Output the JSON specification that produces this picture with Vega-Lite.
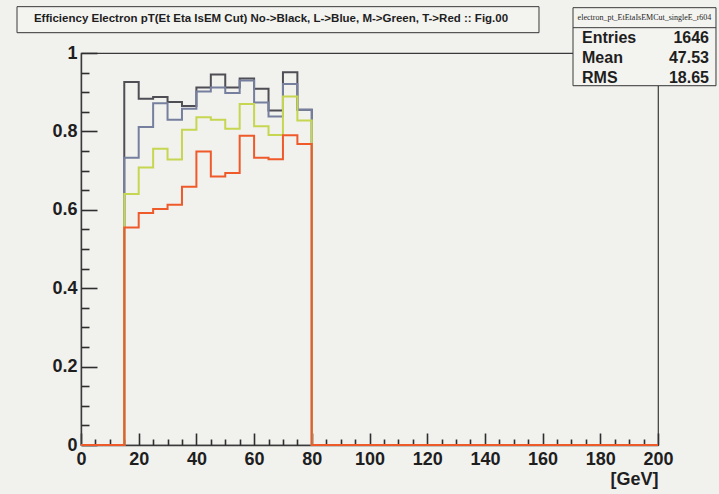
{
  "$schema": "https://vega.github.io/schema/vega-lite/v6.json",
  "width": 577,
  "height": 392,
  "autosize": {"type": "none"},
  "padding": {"left": 81, "top": 53, "right": 61, "bottom": 49},
  "background": "#f1f1ee",
  "config": {
    "view": {"stroke": "#3a3a3a", "strokeWidth": 1.2},
    "font": "Liberation Sans"
  },
  "resolve": {"axis": {"x": "independent", "y": "independent"}},
  "datasets": {
    "hist": [
      {"series": "No", "x": 0, "y": 0}, {"series": "No", "x": 15, "y": 0.926}, {"series": "No", "x": 20, "y": 0.883}, {"series": "No", "x": 25, "y": 0.888}, {"series": "No", "x": 30, "y": 0.875}, {"series": "No", "x": 35, "y": 0.865}, {"series": "No", "x": 40, "y": 0.912}, {"series": "No", "x": 45, "y": 0.945}, {"series": "No", "x": 50, "y": 0.912}, {"series": "No", "x": 55, "y": 0.935}, {"series": "No", "x": 60, "y": 0.909}, {"series": "No", "x": 65, "y": 0.853}, {"series": "No", "x": 70, "y": 0.951}, {"series": "No", "x": 75, "y": 0.855}, {"series": "No", "x": 80, "y": 0}, {"series": "No", "x": 200, "y": 0},
      {"series": "L", "x": 0, "y": 0}, {"series": "L", "x": 15, "y": 0.733}, {"series": "L", "x": 20, "y": 0.811}, {"series": "L", "x": 25, "y": 0.872}, {"series": "L", "x": 30, "y": 0.830}, {"series": "L", "x": 35, "y": 0.858}, {"series": "L", "x": 40, "y": 0.902}, {"series": "L", "x": 45, "y": 0.912}, {"series": "L", "x": 50, "y": 0.898}, {"series": "L", "x": 55, "y": 0.930}, {"series": "L", "x": 60, "y": 0.874}, {"series": "L", "x": 65, "y": 0.838}, {"series": "L", "x": 70, "y": 0.921}, {"series": "L", "x": 75, "y": 0.855}, {"series": "L", "x": 80, "y": 0}, {"series": "L", "x": 200, "y": 0},
      {"series": "M", "x": 0, "y": 0}, {"series": "M", "x": 15, "y": 0.640}, {"series": "M", "x": 20, "y": 0.708}, {"series": "M", "x": 25, "y": 0.756}, {"series": "M", "x": 30, "y": 0.728}, {"series": "M", "x": 35, "y": 0.804}, {"series": "M", "x": 40, "y": 0.836}, {"series": "M", "x": 45, "y": 0.830}, {"series": "M", "x": 50, "y": 0.807}, {"series": "M", "x": 55, "y": 0.870}, {"series": "M", "x": 60, "y": 0.813}, {"series": "M", "x": 65, "y": 0.791}, {"series": "M", "x": 70, "y": 0.889}, {"series": "M", "x": 75, "y": 0.828}, {"series": "M", "x": 80, "y": 0}, {"series": "M", "x": 200, "y": 0},
      {"series": "T", "x": 0, "y": 0}, {"series": "T", "x": 15, "y": 0.555}, {"series": "T", "x": 20, "y": 0.592}, {"series": "T", "x": 25, "y": 0.602}, {"series": "T", "x": 30, "y": 0.613}, {"series": "T", "x": 35, "y": 0.659}, {"series": "T", "x": 40, "y": 0.749}, {"series": "T", "x": 45, "y": 0.685}, {"series": "T", "x": 50, "y": 0.694}, {"series": "T", "x": 55, "y": 0.789}, {"series": "T", "x": 60, "y": 0.733}, {"series": "T", "x": 65, "y": 0.729}, {"series": "T", "x": 70, "y": 0.790}, {"series": "T", "x": 75, "y": 0.768}, {"series": "T", "x": 80, "y": 0}, {"series": "T", "x": 200, "y": 0}
    ],
    "one": [{"k": 1}]
  },
  "layer": [
    {
      "data": {"name": "one"},
      "mark": {"type": "rect", "fill": "#2a2a2a", "xOffset": 2, "yOffset": 2.5},
      "encoding": {
        "x": {"datum": -22.18, "type": "quantitative", "axis": null},
        "x2": {"datum": 158.75},
        "y": {"datum": 1.1182, "type": "quantitative", "axis": null},
        "y2": {"datum": 1.0518}
      }
    },
    {
      "data": {"name": "one"},
      "mark": {"type": "rect", "fill": "#f3f3f0", "stroke": "#3a3a3a", "strokeWidth": 1},
      "encoding": {
        "x": {"datum": -22.18, "type": "quantitative", "axis": null},
        "x2": {"datum": 158.75},
        "y": {"datum": 1.1182, "type": "quantitative", "axis": null},
        "y2": {"datum": 1.0518}
      }
    },
    {
      "data": {"name": "one"},
      "mark": {"type": "text", "text": "Efficiency Electron pT(Et Eta IsEM Cut) No->Black, L->Blue, M->Green, T->Red :: Fig.00", "font": "Liberation Sans", "fontWeight": "bold", "fontSize": 11.5, "color": "#1e1e1e", "align": "center", "baseline": "middle"},
      "encoding": {
        "x": {"datum": 65.86, "type": "quantitative", "axis": null},
        "y": {"datum": 1.0863, "type": "quantitative", "axis": null}
      }
    },
    {
      "data": {"name": "one"},
      "mark": {"type": "rect", "fill": "#2a2a2a", "xOffset": 1.5, "yOffset": 2},
      "encoding": {
        "x": {"datum": 170.54, "type": "quantitative", "axis": null},
        "x2": {"datum": 220.1},
        "y": {"datum": 1.1156, "type": "quantitative", "axis": null},
        "y2": {"datum": 0.9165}
      }
    },
    {
      "data": {"name": "one"},
      "mark": {"type": "rect", "fill": "#f3f3f0", "stroke": "#3a3a3a", "strokeWidth": 1},
      "encoding": {
        "x": {"datum": 170.54, "type": "quantitative", "axis": null},
        "x2": {"datum": 220.1},
        "y": {"datum": 1.1156, "type": "quantitative", "axis": null},
        "y2": {"datum": 0.9165}
      }
    },
    {
      "data": {"name": "one"},
      "mark": {"type": "rule", "color": "#3a3a3a", "strokeWidth": 1},
      "encoding": {
        "x": {"datum": 170.54, "type": "quantitative", "axis": null},
        "x2": {"datum": 220.1},
        "y": {"datum": 1.0646, "type": "quantitative", "axis": null}
      }
    },
    {
      "data": {"name": "one"},
      "mark": {"type": "text", "text": "electron_pt_EtEtaIsEMCut_singleE_r604", "font": "Liberation Sans Narrow", "fontSize": 8, "color": "#1e1e1e", "align": "center", "baseline": "middle"},
      "encoding": {
        "x": {"datum": 195.32, "type": "quantitative", "axis": null},
        "y": {"datum": 1.0901, "type": "quantitative", "axis": null}
      }
    },
    {
      "data": {"name": "one"},
      "mark": {"type": "text", "text": ["Entries", "Mean", "RMS"], "lineHeight": 19.6, "font": "Liberation Sans", "fontWeight": "bold", "fontSize": 16, "color": "#1e1e1e", "align": "left", "baseline": "middle"},
      "encoding": {
        "x": {"datum": 173.66, "type": "quantitative", "axis": null},
        "y": {"datum": 1.0373, "type": "quantitative", "axis": null}
      }
    },
    {
      "data": {"name": "one"},
      "mark": {"type": "text", "text": ["1646", "47.53", "18.65"], "lineHeight": 19.6, "font": "Liberation Sans", "fontWeight": "bold", "fontSize": 16, "color": "#1e1e1e", "align": "right", "baseline": "middle"},
      "encoding": {
        "x": {"datum": 217.68, "type": "quantitative", "axis": null},
        "y": {"datum": 1.0373, "type": "quantitative", "axis": null}
      }
    },
    {
      "data": {"name": "hist"},
      "transform": [{"filter": "datum.series === 'No'"}],
      "mark": {"type": "line", "interpolate": "step-after", "color": "#4e4e54", "strokeWidth": 2},
      "encoding": {
        "x": {
          "field": "x",
          "type": "quantitative",
          "scale": {"domain": [0, 200], "nice": false, "zero": false},
          "axis": {
            "orient": "bottom",
            "values": [0, 20, 40, 60, 80, 100, 120, 140, 160, 180, 200],
            "format": "d",
            "ticks": false,
            "labelPadding": 5,
            "labelFlush": false,
            "labelOverlap": false,
            "labelFont": "Liberation Sans",
            "labelFontWeight": "bold",
            "labelFontSize": 18,
            "labelColor": "#1e1e1e",
            "domainColor": "#3a3a3a",
            "domainWidth": 1.4,
            "grid": false,
            "title": "[GeV]",
            "titleFont": "Liberation Sans",
            "titleFontWeight": "bold",
            "titleFontSize": 18,
            "titleColor": "#1e1e1e",
            "titleAnchor": "end",
            "titleAlign": "right",
            "titleBaseline": "middle",
            "titleX": 577,
            "titleY": 34
          }
        },
        "y": {
          "field": "y",
          "type": "quantitative",
          "scale": {"domain": [0, 1], "nice": false, "zero": false},
          "axis": {
            "orient": "left",
            "values": [0, 0.2, 0.4, 0.6, 0.8, 1],
            "format": "~g",
            "ticks": false,
            "labelPadding": 4,
            "labelFlush": false,
            "labelOverlap": false,
            "labelFont": "Liberation Sans",
            "labelFontWeight": "bold",
            "labelFontSize": 18,
            "labelColor": "#1e1e1e",
            "domainColor": "#3a3a3a",
            "domainWidth": 1.4,
            "grid": false,
            "title": null
          }
        }
      }
    },
    {
      "data": {"name": "hist"},
      "transform": [{"filter": "datum.series === 'L'"}],
      "mark": {"type": "line", "interpolate": "step-after", "color": "#76809e", "strokeWidth": 2},
      "encoding": {
        "x": {
          "field": "x",
          "type": "quantitative",
          "axis": {
            "orient": "top",
            "offset": -392,
            "values": [0, 20, 40, 60, 80, 100, 120, 140, 160, 180, 200],
            "tickSize": 12,
            "tickWidth": 1.6,
            "tickColor": "#2e2e2e",
            "labels": false,
            "domain": false,
            "grid": false,
            "title": null
          }
        },
        "y": {
          "field": "y",
          "type": "quantitative",
          "axis": {
            "orient": "right",
            "offset": -577,
            "values": [0, 0.2, 0.4, 0.6, 0.8, 1],
            "tickSize": 16,
            "tickWidth": 1.6,
            "tickColor": "#2e2e2e",
            "labels": false,
            "domain": false,
            "grid": false,
            "title": null
          }
        }
      }
    },
    {
      "data": {"name": "hist"},
      "transform": [{"filter": "datum.series === 'M'"}],
      "mark": {"type": "line", "interpolate": "step-after", "color": "#c6d650", "strokeWidth": 2},
      "encoding": {
        "x": {
          "field": "x",
          "type": "quantitative",
          "axis": {
            "orient": "top",
            "offset": -392,
            "values": [5, 10, 15, 25, 30, 35, 45, 50, 55, 65, 70, 75, 85, 90, 95, 105, 110, 115, 125, 130, 135, 145, 150, 155, 165, 170, 175, 185, 190, 195],
            "tickSize": 6,
            "tickWidth": 1.6,
            "tickColor": "#2e2e2e",
            "labels": false,
            "domain": false,
            "grid": false,
            "title": null
          }
        },
        "y": {
          "field": "y",
          "type": "quantitative",
          "axis": {
            "orient": "right",
            "offset": -577,
            "values": [0.05, 0.1, 0.15, 0.25, 0.3, 0.35, 0.45, 0.5, 0.55, 0.65, 0.7, 0.75, 0.85, 0.9, 0.95],
            "tickSize": 8,
            "tickWidth": 1.6,
            "tickColor": "#2e2e2e",
            "labels": false,
            "domain": false,
            "grid": false,
            "title": null
          }
        }
      }
    },
    {
      "data": {"name": "hist"},
      "transform": [{"filter": "datum.series === 'T'"}],
      "mark": {"type": "line", "interpolate": "step-after", "color": "#ef5a2a", "strokeWidth": 2},
      "encoding": {"x": {"field": "x", "type": "quantitative", "axis": null}, "y": {"field": "y", "type": "quantitative", "axis": null}}
    }
  ]
}
